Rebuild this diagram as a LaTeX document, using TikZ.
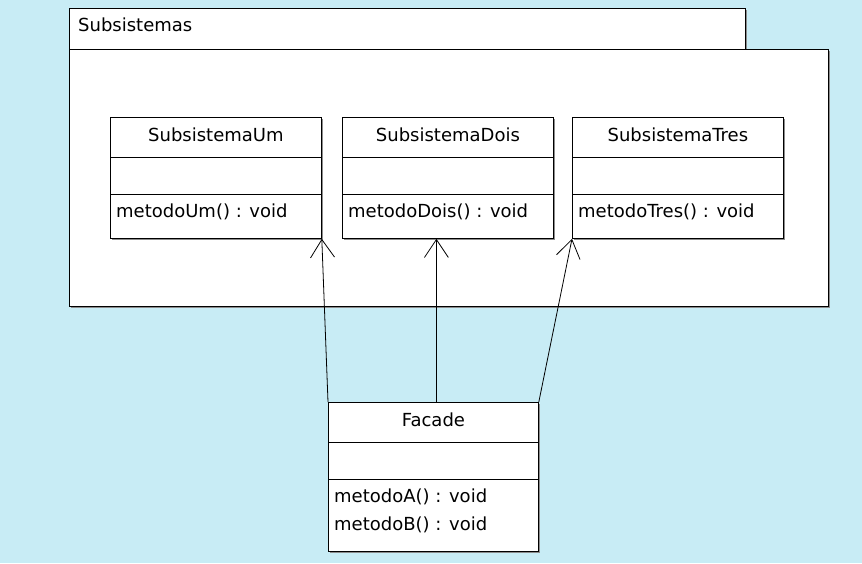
\documentclass[tikz,border=0pt]{standalone}
\usepackage{fontspec}
\setmainfont{DejaVu Sans}
\usetikzlibrary{arrows.meta,shadows}
\definecolor{fundo}{RGB}{200,236,245}
\tikzset{
  caixa/.style={draw, fill=white, line width=0.8pt, inner sep=0pt,
    drop shadow={shadow xshift=1.5pt, shadow yshift=-1.5pt, fill=black!45, opacity=1}},
  classe/.style={caixa, minimum width=211pt, minimum height=121pt, anchor=north west},
  texto/.style={font=\fontsize{18}{20}\selectfont, inner sep=0pt},
  seta/.style={-{Straight Barb[length=18pt,width=24pt]}, line width=0.8pt},
}
\begin{document}
\begin{tikzpicture}[x=1pt, y=-1pt]
  \fill[fundo] (0,0) rectangle (862,563);
  % pacote
  \node[caixa, minimum width=676pt, minimum height=41pt, anchor=north west] (aba) at (69,8) {};
  \node[caixa, minimum width=759pt, minimum height=257pt, anchor=north west] (pacote) at (69,49) {};
  \node[texto, anchor=west] (nomePacote) at (78,25) {Subsistemas};
  % classes
  \node[classe] (um) at (110,117) {};
  \node[classe] (dois) at (342,117) {};
  \node[classe] (tres) at (572,117) {};
  \node[classe, minimum width=210pt, minimum height=149pt] (facade) at (328,402) {};
  \foreach \c in {um,dois,tres,facade} {
    \draw[line width=0.8pt] ([yshift=-40pt]\c.north west) -- ([yshift=-40pt]\c.north east);
    \draw[line width=0.8pt] ([yshift=-77pt]\c.north west) -- ([yshift=-77pt]\c.north east);
  }
  \node[texto] (umNome) at ([yshift=-18pt]um.north) {SubsistemaUm};
  \node[texto] (doisNome) at ([yshift=-18pt]dois.north) {SubsistemaDois};
  \node[texto] (tresNome) at ([yshift=-18pt]tres.north) {SubsistemaTres};
  \node[texto] (facadeNome) at ([yshift=-18pt]facade.north) {Facade};
  \node[texto, anchor=west] (umMetodo) at ([xshift=6pt,yshift=-95pt]um.north west) {metodoUm() : void};
  \node[texto, anchor=west] (doisMetodo) at ([xshift=6pt,yshift=-95pt]dois.north west) {metodoDois() : void};
  \node[texto, anchor=west] (tresMetodo) at ([xshift=6pt,yshift=-95pt]tres.north west) {metodoTres() : void};
  \node[texto, anchor=west] (metodoA) at ([xshift=6pt,yshift=-95pt]facade.north west) {metodoA() : void};
  \node[texto, anchor=west] (metodoB) at ([xshift=6pt,yshift=-123pt]facade.north west) {metodoB() : void};
  % associacoes
  \draw[seta] (facade.north west) -- (um.south east);
  \draw[seta] ([xshift=3pt]facade.north) -- ([xshift=3pt]facade.north |- dois.south);
  \draw[seta] (facade.north east) -- (tres.south west);
\end{tikzpicture}
\end{document}
